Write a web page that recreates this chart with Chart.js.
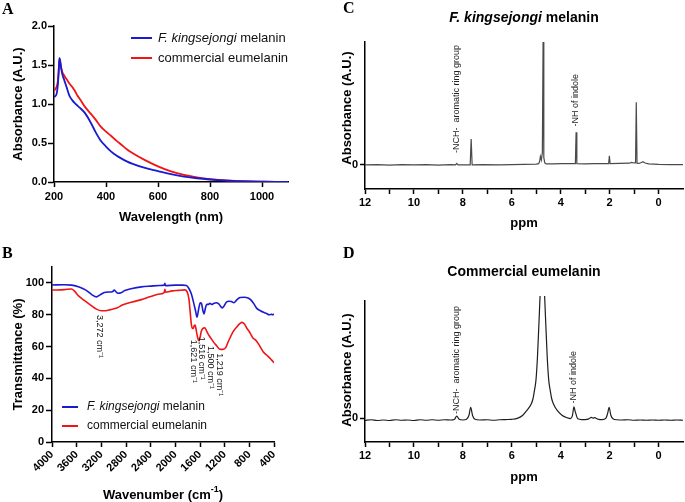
<!DOCTYPE html>
<html lang="en">
<head>
<meta charset="UTF-8">
<title>Melanin spectra</title>
<script src="https://cdn.jsdelivr.net/npm/chart.js@4"></script>
<style>
  body { margin: 0; background: #fff; }
  #wrap { position: relative; width: 685px; height: 502px; overflow: hidden; }
  canvas { position: absolute; }
</style>
</head>
<body>
<div id="wrap">
  <canvas id="cA" width="340" height="238" style="left:0;top:0"></canvas>
  <canvas id="cB" width="340" height="262" style="left:0;top:240px"></canvas>
  <canvas id="cC" width="357" height="240" style="left:328px;top:0"></canvas>
  <canvas id="cD" width="357" height="262" style="left:328px;top:240px"></canvas>
</div>
<script>
const FONT = "'Liberation Sans', Arial, sans-serif";
const BLUE = '#1a1ad2';
const RED = '#f01414';

// A: UV-vis absorbance
const wavelength = [200,205,210,215,218,221,224,228,232,240,250,260,270,280,290,300,320,340,360,380,
                    400,420,440,460,480,500,550,600,650,700,750,800,850,900,950,1000,1050,1100];
const absKingsejongi = [1.09,1.10,1.13,1.25,1.42,1.59,1.55,1.45,1.38,1.30,1.20,1.10,1.05,1.01,0.98,0.95,0.88,0.77,0.64,0.53,
                        0.455,0.39,0.34,0.30,0.265,0.235,0.18,0.14,0.10,0.07,0.048,0.032,0.02,0.012,0.007,0.004,0.002,0.001];
const absEumelanin = [1.17,1.19,1.22,1.30,1.42,1.58,1.53,1.46,1.41,1.36,1.31,1.26,1.22,1.17,1.11,1.06,0.96,0.88,0.80,0.71,
                      0.645,0.59,0.53,0.475,0.42,0.375,0.28,0.20,0.135,0.09,0.06,0.038,0.024,0.014,0.008,0.005,0.002,0.001];
const wlTicks = [200,400,600,800,1000];
const absTicks = [0,0.5,1,1.5,2];

// B: FTIR transmittance, [wavenumber, %]
const irKingsejongi = [[4000,98.7],[3800,98.8],[3680,98.6],[3560,97.5],[3450,95.5],[3350,92.5],[3280,91.2],[3220,92.5],
  [3150,94.0],[3080,94.3],[3020,94.5],[2990,95.5],[2960,94.3],[2930,93.5],[2880,93.8],[2820,95.2],[2700,96.5],[2550,97.5],
  [2400,98.0],[2250,98.4],[2180,98.6],[2170,99.8],[2160,98.3],[2000,98.6],[1880,98.6],[1820,98.4],[1780,96.5],[1740,93],
  [1700,87],[1670,82],[1648,78.5],[1620,84],[1595,87.5],[1575,87],[1555,83],[1535,80.5],[1510,84.5],[1490,86.5],[1460,86.5],
  [1440,87.2],[1410,86.5],[1380,87],[1340,87.5],[1300,87],[1260,85],[1240,84.3],[1210,85.5],[1170,88],[1130,88.5],[1090,88.3],
  [1050,87.5],[1000,89.5],[950,90.8],[880,91],[820,90.5],[780,89.5],[720,86.5],[680,84],[620,82.5],[570,81.5],[520,80.8],
  [480,80],[440,80.3],[420,80],[400,80.5]];
const irEumelanin = [[4000,95.5],[3800,95.8],[3680,96.2],[3640,95],[3560,91.5],[3460,88.5],[3380,86.2],[3280,83.5],[3200,82.5],
  [3130,82.5],[3050,83.2],[2950,84.2],[2850,86.2],[2700,88],[2550,89.5],[2400,91.4],[2250,93],[2180,94],[2170,96],[2160,94.2],
  [2050,95],[1950,95.3],[1850,95.6],[1810,94.5],[1780,90],[1760,82],[1740,74],[1725,71.5],[1710,71.3],[1695,73],[1680,73.5],
  [1660,70],[1640,66],[1620,63.7],[1600,65.5],[1580,69.4],[1550,71.5],[1520,71.8],[1490,69.5],[1460,67.3],[1420,65],[1386,63.1],
  [1330,60.5],[1280,58.3],[1230,58.2],[1180,59.5],[1143,63],[1100,66.5],[1063,69.4],[1000,72.5],[950,74.5],[920,75.2],[880,74.2],
  [840,71.5],[819,70.4],[780,68],[738,65.2],[700,64.2],[650,61.5],[576,56.8],[500,54],[450,52],[414,50.5],[400,49.8]];
const wnTicks = [4000,3600,3200,2800,2400,2000,1600,1200,800,400];
const tTicks = [0,20,40,60,80,100];
const irNoteText = ['3,272 cm\u207B\u00B9','1,621 cm\u207B\u00B9','1,516 cm\u207B\u00B9','1,500 cm\u207B\u00B9','1,219 cm\u207B\u00B9'];
const irNoteWn = [3222,1709,1572,1438,1276];
const irNoteTop = [79.9,64.2,66.2,60.4,55.8];

// C, D: 1H NMR, [ppm, intensity]
const nmrKingsejongi = [[12,0],[11.5,0.01],[11,-0.01],[10.5,0.01],[10,0],[9.5,0.01],[9,-0.01],[8.5,0.01],[8.3,0],[8.25,0.06],
  [8.2,0],[7.7,0],[7.66,1.07],[7.62,0],[7.2,0.01],[6.5,0],[6,0.01],[5.5,0.02],[5.0,0.03],[4.9,0.05],[4.86,0.15],[4.83,0.35],
  [4.79,0.2],[4.75,0.5],[4.72,5.1],[4.69,0.3],[4.65,0.08],[4.6,0.04],[4.3,0.04],[4.0,0.05],[3.6,0.05],[3.4,0.05],[3.37,1.35],
  [3.34,0.05],[3.0,0.04],[2.6,0.05],[2.2,0.05],[2.04,0.05],[2.01,0.38],[1.98,0.05],[1.6,0.06],[1.2,0.07],[1.1,0.1],[1.0,0.08],
  [0.94,0.08],[0.91,2.6],[0.88,0.07],[0.8,0.06],[0.7,0.1],[0.64,0.13],[0.55,0.08],[0.4,0.04],[0,0.02],[-0.5,0.01],[-1,0.01]];
const nmrEumelanin = [[12,-0.1],[11.75,-0.07],[11.5,-0.1],[11.25,-0.08],[11,-0.1],[10.75,-0.07],[10.5,-0.09],[10.25,-0.08],
  [10,-0.1],[9.75,-0.07],[9.5,-0.09],[9.25,-0.07],[9,-0.09],[8.75,-0.07],[8.5,-0.08],[8.35,-0.06],[8.25,0.08],[8.15,-0.05],
  [8.0,-0.08],[7.85,-0.05],[7.75,0.12],[7.68,0.45],[7.6,0.1],[7.5,-0.05],[7.3,-0.08],[7.0,-0.07],[6.75,-0.09],[6.5,-0.07],
  [6.25,-0.06],[6.0,-0.05],[5.75,0.0],[5.55,0.12],[5.4,0.3],[5.2,0.6],[5.13,0.82],[5.07,1.17],[5.01,1.6],[4.95,2.55],
  [4.89,3.95],[4.82,5.6],[4.75,6.5],[4.68,5.6],[4.61,3.95],[4.55,2.55],[4.49,1.6],[4.43,1.17],[4.37,0.82],[4.3,0.6],
  [4.15,0.33],[3.95,0.12],[3.75,0.02],[3.6,-0.02],[3.52,0.1],[3.46,0.47],[3.4,0.25],[3.3,-0.03],[3.15,-0.06],[3.0,-0.06],
  [2.85,-0.03],[2.75,0.03],[2.68,0],[2.6,0.02],[2.54,-0.02],[2.45,-0.05],[2.3,-0.06],[2.15,0],[2.08,0.2],[2.02,0.45],
  [1.95,0.12],[1.85,-0.04],[1.7,-0.07],[1.5,-0.08],[1.25,-0.07],[1.0,-0.09],[0.75,-0.08],[0.5,-0.09],[0.25,-0.08],[0,-0.09],
  [-0.25,-0.08],[-0.5,-0.09],[-0.75,-0.08],[-1,-0.09]];
const ppmTicks = [12,11,10,9,8,7,6,5,4,3,2,1,0];
const nmrNoteText = ['-NCH-  aromatic ring group', '-NH of indole'];
const nmrNotePpmC = [8.25, 3.40], nmrNoteBaseC = [0.49, 1.59];
const nmrNotePpmD = [8.25, 3.48], nmrNoteBaseD = [0.17, 0.61];

function pairs(arr) { return arr.map(p => ({x: p[0], y: p[1]})); }
function zip(xs, ys) { return xs.map((x, i) => ({x: x, y: ys[i]})); }

function axis(o) {
  return {
    type: 'linear', min: o.min, max: o.max, reverse: !!o.reverse,
    afterBuildTicks: s => { s.ticks = o.ticks.map(v => ({value: v})); },
    afterFit: s => { if (s.isHorizontal()) s.height = o.fit; else s.width = o.fit; },
    grid: { drawOnChartArea: false, color: '#000', tickLength: o.tickLen || 5, tickWidth: 1.5 },
    border: { color: '#000', width: 1.5 },
    ticks: { color: '#000', font: { family: FONT, size: o.size, weight: 'bold' }, padding: o.pad || 2,
             minRotation: o.rot || 0, maxRotation: o.rot || 0, autoSkip: false, callback: o.fmt }
  };
}

function vText(ctx, text, x, y, angle, font, align) {
  ctx.save();
  ctx.translate(x, y);
  ctx.rotate(angle);
  ctx.font = font;
  ctx.textAlign = align;
  ctx.textBaseline = 'middle';
  ctx.fillText(text, 0, 0);
  ctx.restore();
}

// parts drawn one after another: {text, font, dy}
function richText(ctx, parts, x, y, align) {
  ctx.textAlign = 'left';
  ctx.textBaseline = 'middle';
  let total = 0;
  parts.forEach(p => { ctx.font = p.font; total += ctx.measureText(p.text).width; });
  let cx = align === 'center' ? x - total / 2 : x;
  parts.forEach(p => {
    ctx.font = p.font;
    ctx.fillText(p.text, cx, y + (p.dy || 0));
    cx += ctx.measureText(p.text).width;
  });
}

function drawLegend(ctx, x0, x1, tx, y, gap, size) {
  const names = [
    [{text: 'F. kingsejongi', font: 'italic ' + size + 'px ' + FONT}, {text: ' melanin', font: size + 'px ' + FONT}],
    [{text: 'commercial eumelanin', font: size + 'px ' + FONT}]
  ];
  [BLUE, RED].forEach((c, i) => {
    const yy = y + i * gap;
    ctx.strokeStyle = c;
    ctx.lineWidth = 2;
    ctx.beginPath(); ctx.moveTo(x0, yy); ctx.lineTo(x1, yy); ctx.stroke();
    ctx.fillStyle = '#111';
    richText(ctx, names[i], tx, yy, 'left');
  });
}

function letter(ctx, ch, x, y) {
  ctx.fillStyle = '#000';
  ctx.font = "bold 16px 'Liberation Serif', 'Times New Roman', serif";
  ctx.textAlign = 'left';
  ctx.textBaseline = 'alphabetic';
  ctx.fillText(ch, x, y);
}

function deco(fn) {
  return { id: 'deco', afterDraw(chart) { const ctx = chart.ctx; ctx.save(); ctx.fillStyle = '#000'; fn(chart, ctx); ctx.restore(); } };
}

function line(data, color, width) {
  return { data: data, borderColor: color, borderWidth: width, pointRadius: 0, fill: false, cubicInterpolationMode: 'monotone' };
}

const base = {
  responsive: false, animation: false, events: [],
  plugins: { legend: { display: false }, tooltip: { enabled: false } }
};

// Panel A
new Chart(document.getElementById('cA'), {
  type: 'line',
  data: { datasets: [
    line(zip(wavelength, absKingsejongi), BLUE, 1.8),
    line(zip(wavelength, absEumelanin), RED, 1.8)
  ] },
  options: Object.assign({}, base, {
    layout: { padding: { top: 26, right: 52, left: 0, bottom: 0 } },
    scales: {
      x: axis({ min: 200, max: 1100, ticks: wlTicks, fit: 56, size: 11, fmt: v => String(v), pad: 3 }),
      y: axis({ min: 0, max: 2, ticks: absTicks, fit: 54, size: 11, fmt: v => v.toFixed(1), tickLen: 6, pad: 1 })
    }
  }),
  plugins: [deco((chart, ctx) => {
    const ca = chart.chartArea;
    letter(ctx, 'A', 2, 14);
    vText(ctx, 'Absorbance (A.U.)', 18, 104, -Math.PI / 2, 'bold 13px ' + FONT, 'center');
    vText(ctx, 'Wavelength (nm)', (ca.left + ca.right) / 2, 217, 0, 'bold 13px ' + FONT, 'center');
    drawLegend(ctx, 131, 152, 158, 38, 20, 13);
  })]
});

// Panel B
new Chart(document.getElementById('cB'), {
  type: 'line',
  data: { datasets: [
    line(pairs(irKingsejongi), BLUE, 1.6),
    line(pairs(irEumelanin), RED, 1.6)
  ] },
  options: Object.assign({}, base, {
    layout: { padding: { top: 27, right: 66, left: 0, bottom: 0 } },
    scales: {
      x: axis({ min: 400, max: 4000, reverse: true, ticks: wnTicks, fit: 60, size: 11, rot: 45, fmt: v => String(v), tickLen: 5, pad: 1 }),
      y: axis({ min: 0, max: 110, ticks: tTicks, fit: 52, size: 11, fmt: v => String(v), tickLen: 6, pad: 2 })
    }
  }),
  plugins: [deco((chart, ctx) => {
    const ca = chart.chartArea;
    const xs = chart.scales.x, ys = chart.scales.y;
    letter(ctx, 'B', 2, 18);
    vText(ctx, 'Transmittance (%)', 18, (ca.top + ca.bottom) / 2, -Math.PI / 2, 'bold 13px ' + FONT, 'center');
    richText(ctx, [
      {text: 'Wavenumber (cm', font: 'bold 13px ' + FONT},
      {text: '-1', font: 'bold 9px ' + FONT, dy: -5},
      {text: ')', font: 'bold 13px ' + FONT}
    ], (ca.left + ca.right) / 2, 255, 'center');
    ctx.fillStyle = '#111';
    irNoteText.forEach((t, i) => {
      vText(ctx, t, xs.getPixelForValue(irNoteWn[i]), ys.getPixelForValue(irNoteTop[i]), Math.PI / 2, '9px ' + FONT, 'left');
    });
    drawLegend(ctx, 62, 78, 87, 167, 19, 12);
  })]
});

function nmrChart(id, data, color, smooth, top, fitX, maxY, ppmNote, baseNote, title, letterY, titleY, ppmY, yTitleY) {
  const ds = { data: pairs(data), borderColor: color, borderWidth: 1.2, pointRadius: 0, fill: false,
               clip: { left: 0, right: 0, top: 5, bottom: 0 } };
  if (smooth) ds.cubicInterpolationMode = 'monotone'; else ds.tension = 0;
  new Chart(document.getElementById(id), {
    type: 'line',
    data: { datasets: [ds] },
    options: Object.assign({}, base, {
      layout: { padding: { top: top, right: 2, left: 0, bottom: 0 } },
      scales: {
        x: axis({ min: -1, max: 12, reverse: true, ticks: ppmTicks, fit: fitX, size: 11, fmt: v => (v % 2 === 0 ? String(v) : ''), tickLen: 5, pad: 2 }),
        y: axis({ min: -1, max: maxY, ticks: [0], fit: 37, size: 11, fmt: v => String(v), tickLen: 5, pad: 2 })
      }
    }),
    plugins: [deco((chart, ctx) => {
      const ca = chart.chartArea;
      const xs = chart.scales.x, ys = chart.scales.y;
      letter(ctx, id === 'cC' ? 'C' : 'D', 15, letterY);
      ctx.fillStyle = '#000';
      richText(ctx, title, (ca.left + ca.right) / 2, titleY, 'center');
      vText(ctx, 'Absorbance (A.U.)', 19, yTitleY, -Math.PI / 2, 'bold 13px ' + FONT, 'center');
      vText(ctx, 'ppm', (ca.left + ca.right) / 2, ppmY, 0, 'bold 13px ' + FONT, 'center');
      ctx.fillStyle = '#222';
      nmrNoteText.forEach((t, i) => {
        vText(ctx, t, xs.getPixelForValue(ppmNote[i]), ys.getPixelForValue(baseNote[i]), -Math.PI / 2, '9px ' + FONT, 'left');
      });
    })]
  });
}

nmrChart('cC', nmrKingsejongi, '#4a4a4a', false, 42, 51, 5.1, nmrNotePpmC, nmrNoteBaseC,
  [{text: 'F. kingsejongi', font: 'italic bold 14px ' + FONT}, {text: ' melanin', font: 'bold 14px ' + FONT}],
  13, 18, 223, 108);
nmrChart('cD', nmrEumelanin, '#1e1e1e', true, 61, 60, 4.9, nmrNotePpmD, nmrNoteBaseD,
  [{text: 'Commercial eumelanin', font: 'bold 14px ' + FONT}],
  18, 32, 237, 130);
</script>
</body>
</html>
